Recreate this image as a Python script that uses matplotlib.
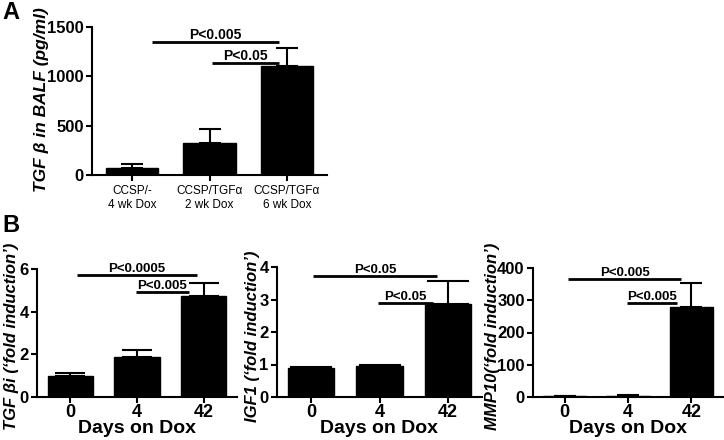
import matplotlib
matplotlib.use("Agg")
import matplotlib.pyplot as plt
import numpy as np

plt.rcParams['font.family'] = ['Liberation Sans', 'DejaVu Sans']

# ---- data ----
a_categories = ["CCSP/-\n4 wk Dox", "CCSP/TGF\u03b1\n2 wk Dox", "CCSP/TGF\u03b1\n6 wk Dox"]
a_values = [70, 325, 1100]
a_err_top = [110, 465, 1285]

b_days = ["0", "4", "42"]
tgf_values = [1.0, 1.87, 4.73]
tgf_err_top = [1.12, 2.2, 5.35]
igf_values = [0.88, 0.95, 2.85]
igf_err_top = [0.92, 0.98, 3.58]
mmp_values = [2, 4, 280]
mmp_err_top = [2.5, 5, 355]

W, H = 724, 440
fig = plt.figure(figsize=(W / 100, H / 100), dpi=100)


def add_ax(l, r, t, b):
    return fig.add_axes([l / W, 1 - b / H, (r - l) / W, (b - t) / H])


def style(ax, ylim, yticks, ytick_size):
    for s in ['top', 'right']:
        ax.spines[s].set_visible(False)
    for s in ['left', 'bottom']:
        ax.spines[s].set_linewidth(1.5)
    ax.set_ylim(*ylim)
    ax.set_yticks(yticks)
    ax.tick_params(axis='y', direction='out', width=1.5, length=4,
                   labelsize=ytick_size, pad=2)
    for lab in ax.get_yticklabels():
        lab.set_fontweight('bold')


def bars(ax, vals, tops, capsize, xlim):
    x = np.arange(len(vals))
    ax.bar(x, vals, width=0.68, color='black', edgecolor='black', zorder=2)
    lower = np.zeros(len(vals))
    upper = np.array(tops) - np.array(vals)
    ax.errorbar(x, vals, yerr=[lower, upper], fmt='none', ecolor='black',
                elinewidth=1.5, capsize=capsize, capthick=1.5, zorder=3)
    ax.set_xlim(*xlim)
    ax.set_xticks(x)


def sig(ax, x0, x1, y, label, size):
    ax.plot([x0, x1], [y, y], color='black', lw=2, clip_on=False,
            solid_capstyle='butt')
    ax.text((x0 + x1) / 2, y, label, ha='center', va='bottom',
            fontsize=size, fontweight='bold')


# ---- Panel A ----
axA = add_ax(92, 327, 27, 175)
bars(axA, a_values, a_err_top, 8, (-0.52, 2.52))
style(axA, (0, 1500), [0, 500, 1000, 1500], 12)
axA.set_xticklabels(a_categories, fontsize=8.5)
axA.tick_params(axis='x', direction='out', width=1.5, length=4, pad=3)
sig(axA, 0.25, 1.9, 1350, "P<0.005", 10)
sig(axA, 1.03, 1.9, 1140, "P<0.05", 10)
fig.text(42 / W, 1 - 100 / H, "TGF \u03b2 in BALF (pg/ml)", rotation=90,
         ha='center', va='center', fontsize=12.5, fontweight='bold',
         fontstyle='italic')

# ---- Panel B ----
panels = [
    ((37, 237, 269, 397), tgf_values, tgf_err_top, (0, 6), [0, 2, 4, 6], 10.5,
     [(0.1, 1.9, 5.72, "P<0.0005"), (0.98, 1.78, 4.93, "P<0.005")],
     12, "TGF \u03b2i (\u2018fold induction\u2019)"),
    ((277, 482, 267, 397), igf_values, igf_err_top, (0, 4), [0, 1, 2, 3, 4], 15,
     [(0.03, 1.84, 3.72, "P<0.05"), (0.98, 1.78, 2.9, "P<0.05")],
     252, "IGF1 (\u2018fold induction\u2019)"),
    ((533, 723, 268, 397), mmp_values, mmp_err_top, (0, 400),
     [0, 100, 200, 300, 400], 8,
     [(0.05, 1.84, 365, "P<0.005"), (0.98, 1.78, 290, "P<0.005")],
     492, "MMP10(\u2018fold induction\u2019)"),
]

for (l, r, t, b), vals, tops, ylim, yt, cap, sigs, labx, ylab in panels:
    ax = add_ax(l, r, t, b)
    bars(ax, vals, tops, cap, (-0.5, 2.5))
    style(ax, ylim, yt, 12)
    ax.set_xticklabels(b_days, fontsize=13, fontweight='bold')
    ax.tick_params(axis='x', direction='out', width=1.5, length=4, pad=1)
    ax.set_xlabel("Days on Dox", fontsize=14, fontweight='bold', labelpad=-1)
    for x0, x1, y, lab in sigs:
        sig(ax, x0, x1, y, lab, 9.5)
    fig.text(labx / W, 1 - 336 / H, ylab, rotation=90, ha='center',
             va='center', fontsize=12, fontweight='bold', fontstyle='italic')

fig.text(2 / W, 1 - 1 / H, "A", ha='left', va='top', fontsize=17,
         fontweight='bold')
fig.text(2 / W, 1 - 214 / H, "B", ha='left', va='top', fontsize=17,
         fontweight='bold')

fig.savefig("out.png", dpi=100)
